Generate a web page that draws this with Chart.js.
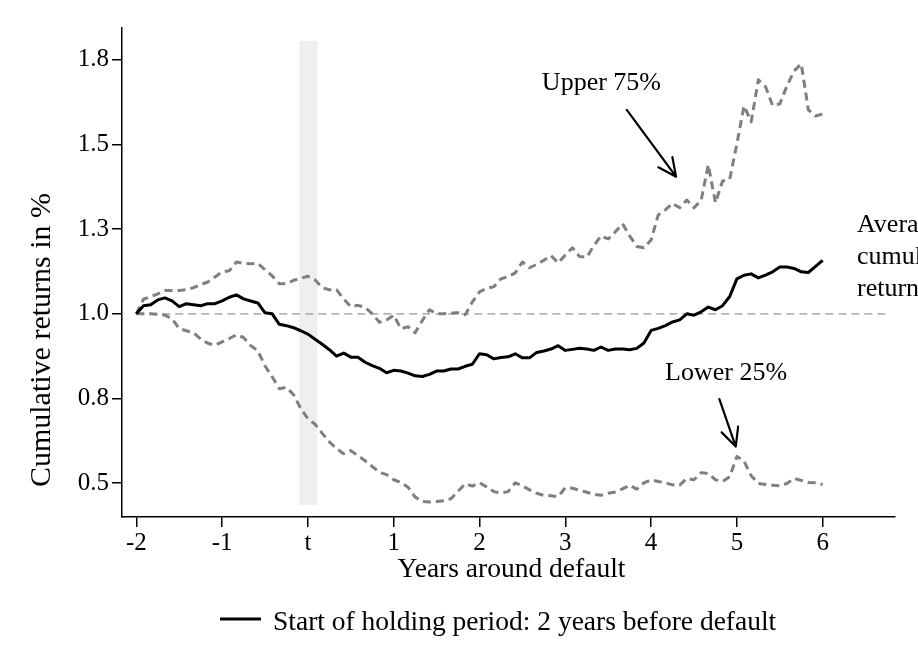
<!DOCTYPE html>
<html>
<head>
<meta charset="utf-8">
<script src="https://cdn.jsdelivr.net/npm/chart.js@4.4.1/dist/chart.umd.min.js"></script>
<style>
  html, body { margin: 0; padding: 0; background: #fff; }
  #wrap { position: relative; width: 918px; height: 668px; }
</style>
</head>
<body>
<div id="wrap"><canvas id="chart" width="918" height="668"></canvas></div>
<script>
// monthly grid, 2 years before default up to 6 years after
const months = Array.from({ length: 97 }, (_, i) => i - 24);

const meanReturns = [
  1.000, 1.024, 1.027, 1.041, 1.047, 1.038, 1.021, 1.030, 1.027, 1.024,
  1.030, 1.030, 1.038, 1.049, 1.056, 1.044, 1.038, 1.032, 1.003, 1.000,
  0.969, 0.965, 0.959, 0.950, 0.940, 0.925, 0.910, 0.894, 0.875, 0.884,
  0.872, 0.872, 0.857, 0.847, 0.839, 0.826, 0.833, 0.831, 0.825, 0.817,
  0.815, 0.821, 0.831, 0.831, 0.837, 0.837, 0.845, 0.851, 0.882, 0.879,
  0.867, 0.871, 0.873, 0.882, 0.870, 0.870, 0.886, 0.890, 0.896, 0.906,
  0.892, 0.895, 0.898, 0.896, 0.892, 0.902, 0.892, 0.896, 0.896, 0.894,
  0.898, 0.914, 0.951, 0.957, 0.965, 0.976, 0.982, 1.000, 0.996, 1.006,
  1.020, 1.012, 1.024, 1.051, 1.103, 1.114, 1.118, 1.106, 1.114, 1.124,
  1.138, 1.138, 1.134, 1.124, 1.122, 1.140, 1.158
];

const upper75 = [
  1.000, 1.043, 1.051, 1.059, 1.069, 1.069, 1.069, 1.071, 1.077, 1.086,
  1.094, 1.109, 1.124, 1.127, 1.153, 1.149, 1.148, 1.149, 1.130, 1.112,
  1.089, 1.089, 1.099, 1.105, 1.111, 1.100, 1.077, 1.071, 1.071, 1.044,
  1.021, 1.025, 1.019, 1.000, 0.975, 0.982, 0.996, 0.956, 0.962, 0.944,
  0.980, 1.012, 1.000, 1.000, 1.002, 1.003, 0.997, 1.035, 1.065, 1.075,
  1.080, 1.103, 1.110, 1.121, 1.153, 1.136, 1.146, 1.158, 1.172, 1.150,
  1.174, 1.195, 1.169, 1.167, 1.201, 1.230, 1.221, 1.242, 1.266, 1.230,
  1.199, 1.195, 1.218, 1.292, 1.307, 1.326, 1.313, 1.336, 1.313, 1.335,
  1.440, 1.328, 1.392, 1.398, 1.502, 1.614, 1.567, 1.691, 1.671, 1.615,
  1.620, 1.673, 1.717, 1.738, 1.602, 1.584, 1.590
];

const lower25 = [
  1.000, 1.000, 1.000, 0.999, 0.996, 0.985, 0.956, 0.950, 0.944, 0.926,
  0.913, 0.907, 0.917, 0.927, 0.938, 0.930, 0.906, 0.891, 0.846, 0.814,
  0.779, 0.783, 0.761, 0.720, 0.690, 0.674, 0.647, 0.622, 0.602, 0.587,
  0.596, 0.581, 0.566, 0.549, 0.532, 0.525, 0.510, 0.502, 0.488, 0.459,
  0.446, 0.444, 0.446, 0.448, 0.454, 0.476, 0.498, 0.491, 0.501, 0.489,
  0.475, 0.471, 0.475, 0.501, 0.492, 0.480, 0.470, 0.464, 0.463, 0.460,
  0.486, 0.485, 0.479, 0.473, 0.467, 0.464, 0.470, 0.474, 0.483, 0.494,
  0.482, 0.501, 0.510, 0.505, 0.501, 0.495, 0.494, 0.514, 0.510, 0.531,
  0.528, 0.510, 0.505, 0.519, 0.579, 0.565, 0.522, 0.499, 0.496, 0.494,
  0.492, 0.499, 0.514, 0.508, 0.502, 0.501, 0.496
];

const xTickValues = [-2, -1, 0, 1, 2, 3, 4, 5, 6];
const xTickLabels = ['-2', '-1', 't', '1', '2', '3', '4', '5', '6'];
const yTickValues = [0.5, 0.75, 1.0, 1.25, 1.5, 1.75];
const yTickLabels = ['0.5', '0.8', '1.0', '1.3', '1.5', '1.8'];

// dashed reference at 1.0
const refLineX = [-2, 6.75];
const refLineY = [1, 1];

// grey band around the default date
const bandX = [-0.1, 0.11];
const bandY = [0.436, 1.806];

// text notes and arrows (data units)
const notes = [
  { lines: ['Upper 75%'], x: 2.727, y: [1.661] },
  { lines: ['Lower 25%'], x: 4.163, y: [0.805] },
  { lines: ['Average', 'cumulative', 'returns'], x: 6.40, y: [1.242, 1.148, 1.053] }
];
const arrows = [
  { from: [3.717, 1.602], to: [4.291, 1.405] },
  { from: [4.796, 0.748], to: [4.987, 0.608] }
];

const serif = '"Liberation Serif", "Times New Roman", serif';
Chart.defaults.font.family = serif;
Chart.defaults.color = '#000';

const toPoints = (ys) => ys.map((y, i) => ({ x: months[i] / 12, y }));

function drawArrow(ctx, x0, y0, x1, y1) {
  const ang = Math.atan2(y1 - y0, x1 - x0);
  const head = 20, spread = 0.45;
  ctx.beginPath();
  ctx.moveTo(x0, y0);
  ctx.lineTo(x1, y1);
  ctx.moveTo(x1 - head * Math.cos(ang - spread), y1 - head * Math.sin(ang - spread));
  ctx.lineTo(x1, y1);
  ctx.lineTo(x1 - head * Math.cos(ang + spread), y1 - head * Math.sin(ang + spread));
  ctx.stroke();
}

const extras = {
  id: 'extras',
  beforeDatasetsDraw(chart) {
    const { ctx, scales: { x, y } } = chart;
    const l = x.getPixelForValue(bandX[0]);
    const r = x.getPixelForValue(bandX[1]);
    const t = y.getPixelForValue(bandY[1]);
    const b = y.getPixelForValue(bandY[0]);
    ctx.save();
    ctx.fillStyle = '#efefef';
    ctx.fillRect(l, t, r - l, b - t);
    ctx.restore();
  },
  afterDraw(chart) {
    const { ctx, chartArea, scales: { x, y } } = chart;
    ctx.save();
    ctx.fillStyle = '#000';
    ctx.strokeStyle = '#000';
    ctx.lineWidth = 2.2;
    ctx.lineCap = 'round';
    ctx.lineJoin = 'round';

    ctx.font = '26px ' + serif;
    ctx.textAlign = 'left';
    ctx.textBaseline = 'alphabetic';
    notes.forEach(n => {
      n.lines.forEach((t, k) => ctx.fillText(t, x.getPixelForValue(n.x), y.getPixelForValue(n.y[k])));
    });
    arrows.forEach(a => drawArrow(ctx,
      x.getPixelForValue(a.from[0]), y.getPixelForValue(a.from[1]),
      x.getPixelForValue(a.to[0]), y.getPixelForValue(a.to[1])));

    // axis titles
    ctx.font = '27.5px ' + serif;
    ctx.textAlign = 'center';
    ctx.fillText('Years around default', (chartArea.left + chartArea.right) / 2 + 3, chartArea.bottom + 60);
    ctx.save();
    ctx.translate(42, chartArea.bottom - 177);
    ctx.rotate(-Math.PI / 2);
    ctx.font = '30px ' + serif;
    ctx.textBaseline = 'middle';
    ctx.fillText('Cumulative returns in %', 0, 0);
    ctx.restore();

    // legend
    const ds = chart.data.datasets[0];
    const ly = chartArea.bottom + 102;
    ctx.lineWidth = 3;
    ctx.lineCap = 'butt';
    ctx.beginPath();
    ctx.moveTo(chartArea.left + 98, ly);
    ctx.lineTo(chartArea.left + 139, ly);
    ctx.stroke();
    ctx.textAlign = 'left';
    ctx.fillText(ds.label, chartArea.left + 151, ly + 11);
    ctx.restore();
  }
};

new Chart(document.getElementById('chart'), {
  type: 'line',
  data: {
    datasets: [
      {
        label: 'Start of holding period: 2 years before default',
        data: toPoints(meanReturns),
        borderColor: '#000',
        borderWidth: 3
      },
      {
        label: 'Upper 75%',
        data: toPoints(upper75),
        borderColor: '#7f7f7f',
        borderWidth: 3,
        borderDash: [8, 5]
      },
      {
        label: 'Lower 25%',
        data: toPoints(lower25),
        borderColor: '#7f7f7f',
        borderWidth: 3,
        borderDash: [8, 5]
      },
      {
        label: 'Reference',
        data: refLineX.map((xv, i) => ({ x: xv, y: refLineY[i] })),
        borderColor: '#b4b4b4',
        borderWidth: 1.8,
        borderDash: [8, 5]
      }
    ]
  },
  options: {
    responsive: false,
    animation: false,
    layout: { padding: { top: 28, right: 23, left: 0, bottom: 0 } },
    plugins: { legend: { display: false }, tooltip: { enabled: false } },
    elements: {
      point: { radius: 0 },
      line: { tension: 0, fill: false, borderJoinStyle: 'round' }
    },
    scales: {
      x: {
        type: 'linear',
        min: -2.167,
        max: 6.843,
        afterBuildTicks: s => { s.ticks = xTickValues.map(v => ({ value: v })); },
        afterFit: s => { s.height = 151; },
        grid: { drawOnChartArea: false, drawTicks: true, tickLength: 10, color: '#000', lineWidth: 1.5 },
        border: { color: '#000', width: 1.5 },
        ticks: {
          padding: 1,
          autoSkip: false,
          maxRotation: 0,
          font: { size: 25 },
          color: '#000',
          callback: (v, i) => xTickLabels[i]
        }
      },
      y: {
        type: 'linear',
        min: 0.40,
        max: 1.844,
        afterBuildTicks: s => { s.ticks = yTickValues.map(v => ({ value: v })); },
        afterFit: s => { s.width = 122; },
        grid: { drawOnChartArea: false, drawTicks: true, tickLength: 10, color: '#000', lineWidth: 1.5 },
        border: { color: '#000', width: 1.5 },
        ticks: {
          padding: 3,
          autoSkip: false,
          font: { size: 25 },
          color: '#000',
          callback: (v, i) => yTickLabels[i]
        }
      }
    }
  },
  plugins: [extras]
});
</script>
</body>
</html>
